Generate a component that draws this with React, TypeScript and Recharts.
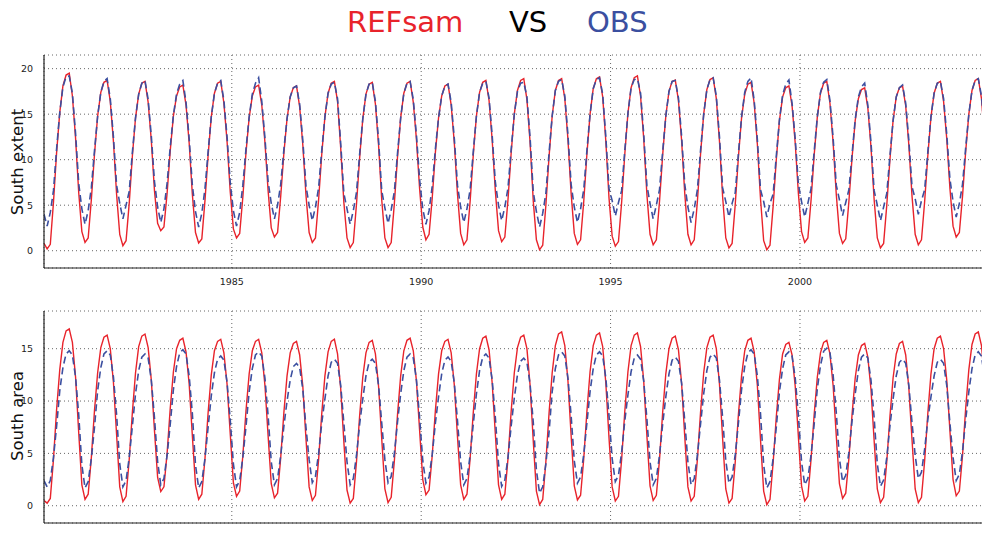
import { CartesianGrid, Line, LineChart, XAxis, YAxis } from 'recharts'

// monthly values, one row per year (Jan..Dec)
const years = [
  1980, 1981, 1982, 1983, 1984, 1985, 1986, 1987, 1988, 1989, 1990, 1991, 1992,
  1993, 1994, 1995, 1996, 1997, 1998, 1999, 2000, 2001, 2002, 2003, 2004
]

const refsamExtent = [
  [0.8, 0.2, 0.7, 5.3, 10.8, 15.2, 18.1, 19.3, 19.5, 17.0, 12.4, 6.4],
  [2.1, 0.9, 1.4, 5.6, 10.6, 14.8, 17.4, 18.5, 18.7, 16.4, 12.0, 6.2],
  [1.8, 0.55, 1.1, 5.2, 10.4, 14.6, 17.2, 18.4, 18.6, 16.3, 12.1, 6.6],
  [3.0, 2.2, 2.6, 6.3, 11.0, 14.8, 17.0, 18.0, 18.2, 16.0, 11.8, 6.2],
  [2.0, 0.85, 1.3, 5.5, 10.5, 14.7, 17.3, 18.4, 18.6, 16.2, 12.0, 6.5],
  [2.4, 1.4, 1.9, 5.9, 10.8, 14.6, 17.0, 18.0, 18.2, 16.0, 11.9, 6.6],
  [2.5, 1.5, 2.0, 6.0, 10.7, 14.5, 16.9, 17.9, 18.1, 15.8, 11.6, 6.1],
  [2.0, 0.9, 1.4, 5.6, 10.6, 14.7, 17.3, 18.4, 18.6, 16.4, 11.3, 5.3],
  [1.4, 0.35, 0.9, 5.1, 10.2, 14.5, 17.2, 18.3, 18.5, 16.1, 11.6, 5.6],
  [1.4, 0.35, 0.9, 5.2, 10.3, 14.6, 17.3, 18.4, 18.6, 16.3, 12.2, 6.8],
  [2.6, 1.2, 1.8, 5.8, 10.8, 14.6, 17.0, 18.1, 18.3, 16.0, 11.8, 6.2],
  [1.9, 0.65, 1.2, 5.4, 10.5, 14.8, 17.4, 18.5, 18.7, 16.5, 12.1, 6.5],
  [2.2, 1.0, 1.5, 5.6, 10.7, 15.0, 17.6, 18.7, 18.9, 16.6, 11.9, 5.5],
  [1.2, 0.1, 0.6, 5.0, 10.3, 14.8, 17.6, 18.7, 18.9, 16.7, 12.2, 6.3],
  [1.9, 0.7, 1.2, 5.4, 10.6, 15.0, 17.8, 18.9, 19.1, 16.9, 12.0, 5.8],
  [1.6, 0.5, 1.0, 5.3, 10.6, 15.1, 17.9, 19.0, 19.2, 17.0, 12.3, 6.2],
  [1.8, 0.65, 1.2, 5.4, 10.5, 14.8, 17.5, 18.6, 18.75, 16.5, 12.1, 6.3],
  [1.8, 0.65, 1.2, 5.4, 10.6, 15.0, 17.7, 18.8, 19.0, 16.7, 12.0, 5.9],
  [1.4, 0.3, 0.8, 5.1, 10.3, 14.6, 17.2, 18.3, 18.5, 16.2, 11.7, 5.7],
  [1.1, 0.1, 0.6, 4.9, 10.0, 14.3, 16.9, 17.9, 18.1, 15.9, 11.8, 6.3],
  [2.1, 0.9, 1.4, 5.5, 10.5, 14.7, 17.3, 18.4, 18.6, 16.2, 11.9, 6.2],
  [1.9, 0.8, 1.3, 5.4, 10.2, 14.3, 16.7, 17.7, 17.9, 15.7, 11.4, 5.6],
  [1.4, 0.3, 0.8, 5.0, 10.0, 14.3, 16.9, 17.9, 18.1, 15.9, 11.6, 6.0],
  [1.8, 0.65, 1.2, 5.4, 10.4, 14.7, 17.3, 18.4, 18.6, 16.4, 12.3, 6.9],
  [2.7, 1.5, 2.0, 6.0, 10.9, 15.0, 17.6, 18.7, 18.9, 16.7, 12.4, 6.5]
]

const obsExtent = [
  [4.0, 2.7, 4.2, 6.6, 11.2, 15.2, 18.0, 19.1, 19.2, 17.3, 12.9, 7.4],
  [4.6, 2.9, 4.4, 6.9, 11.0, 14.8, 17.4, 18.6, 18.9, 16.7, 12.5, 7.2],
  [5.2, 3.5, 5.0, 6.5, 10.8, 14.6, 17.2, 18.4, 18.7, 16.6, 12.6, 7.6],
  [4.8, 3.1, 4.6, 7.4, 11.4, 14.9, 17.2, 18.3, 18.7, 16.3, 12.3, 7.2],
  [4.3, 2.6, 4.1, 6.8, 10.9, 14.7, 17.3, 18.4, 18.7, 16.5, 12.5, 7.5],
  [4.4, 2.7, 4.2, 7.2, 11.2, 14.7, 17.2, 18.4, 19.0, 16.4, 12.4, 7.6],
  [5.2, 3.5, 5.0, 7.3, 11.1, 14.5, 16.9, 17.9, 18.1, 16.1, 12.1, 7.1],
  [5.0, 3.3, 4.8, 6.9, 11.0, 14.7, 17.3, 18.3, 18.5, 16.7, 11.8, 6.3],
  [4.6, 2.9, 4.4, 6.4, 10.6, 14.5, 17.2, 18.3, 18.5, 16.4, 12.1, 6.6],
  [4.7, 3.0, 4.5, 6.5, 10.7, 14.6, 17.3, 18.4, 18.6, 16.6, 12.7, 7.8],
  [4.6, 2.9, 4.4, 7.1, 11.2, 14.6, 17.0, 18.1, 18.3, 16.3, 12.3, 7.2],
  [4.8, 3.1, 4.6, 6.7, 10.9, 14.8, 17.4, 18.4, 18.6, 16.8, 12.6, 7.5],
  [5.0, 3.3, 4.8, 6.9, 11.1, 15.0, 17.5, 18.4, 18.5, 16.9, 12.4, 6.5],
  [4.3, 2.6, 4.1, 6.3, 10.7, 14.8, 17.6, 18.6, 18.8, 17.0, 12.7, 7.3],
  [4.8, 3.1, 4.6, 6.7, 11.0, 15.0, 17.8, 18.8, 19.0, 17.2, 12.5, 6.8],
  [5.5, 3.8, 5.3, 6.6, 11.0, 15.1, 17.9, 18.8, 18.9, 17.3, 12.8, 7.2],
  [5.2, 3.5, 5.0, 6.7, 10.9, 14.8, 17.5, 18.6, 18.7, 16.8, 12.6, 7.3],
  [4.8, 3.1, 4.6, 6.7, 11.0, 15.0, 17.7, 18.8, 19.0, 17.0, 12.5, 6.9],
  [5.4, 3.7, 5.2, 6.4, 10.7, 14.7, 17.4, 18.6, 19.0, 16.5, 12.2, 6.7],
  [5.4, 3.7, 5.2, 6.2, 10.4, 14.4, 17.1, 18.3, 18.75, 16.2, 12.3, 7.3],
  [5.4, 3.7, 5.2, 6.8, 10.9, 14.7, 17.4, 18.5, 18.8, 16.5, 12.4, 7.2],
  [5.6, 3.85, 5.3, 6.7, 10.6, 14.4, 16.9, 18.0, 18.4, 16.0, 11.9, 6.6],
  [5.0, 3.3, 4.8, 6.3, 10.4, 14.3, 16.9, 17.9, 18.2, 16.2, 12.1, 7.0],
  [5.7, 4.0, 5.5, 6.7, 10.8, 14.7, 17.3, 18.4, 18.6, 16.7, 12.8, 7.9],
  [5.4, 3.7, 5.2, 7.3, 11.3, 15.0, 17.6, 18.7, 18.9, 17.0, 12.9, 7.5]
]

const refsamArea = [
  [0.5, 0.25, 0.7, 4.4, 9.2, 13.0, 15.6, 16.7, 16.9, 15.6, 12.3, 7.0],
  [2.0, 0.6, 1.1, 4.6, 9.1, 12.7, 15.1, 16.1, 16.3, 15.0, 11.8, 6.8],
  [1.8, 0.4, 0.9, 4.4, 8.9, 12.7, 15.2, 16.2, 16.4, 15.1, 12.0, 7.2],
  [2.7, 1.35, 1.8, 5.0, 9.3, 12.8, 15.0, 15.8, 16.0, 14.7, 11.6, 6.7],
  [2.0, 0.6, 1.1, 4.5, 8.9, 12.5, 14.8, 15.7, 15.9, 14.6, 11.6, 6.9],
  [2.2, 0.9, 1.4, 4.8, 9.1, 12.6, 14.8, 15.7, 15.9, 14.6, 11.5, 6.7],
  [2.1, 0.75, 1.2, 4.6, 8.9, 12.4, 14.6, 15.5, 15.7, 14.4, 11.4, 6.4],
  [1.8, 0.5, 1.0, 4.4, 8.8, 12.4, 14.7, 15.7, 15.9, 14.5, 11.2, 6.1],
  [1.5, 0.25, 0.7, 4.2, 8.6, 12.3, 14.6, 15.6, 15.8, 14.5, 11.4, 6.4],
  [1.6, 0.3, 0.8, 4.3, 8.7, 12.4, 14.8, 15.8, 16.0, 14.8, 11.9, 7.2],
  [2.5, 1.05, 1.5, 4.8, 9.1, 12.6, 14.8, 15.7, 15.9, 14.6, 11.5, 6.6],
  [2.0, 0.6, 1.1, 4.5, 8.9, 12.6, 15.0, 16.0, 16.2, 14.9, 11.7, 6.8],
  [2.0, 0.6, 1.1, 4.5, 9.0, 12.7, 15.1, 16.1, 16.3, 15.0, 11.5, 6.2],
  [1.4, 0.1, 0.6, 4.2, 8.8, 12.7, 15.3, 16.4, 16.6, 15.3, 11.9, 6.7],
  [1.9, 0.55, 1.0, 4.5, 9.0, 12.8, 15.3, 16.3, 16.5, 15.2, 11.7, 6.5],
  [1.8, 0.45, 0.9, 4.4, 9.0, 12.8, 15.3, 16.3, 16.5, 15.2, 11.9, 6.7],
  [1.9, 0.5, 1.0, 4.4, 8.9, 12.6, 15.0, 16.0, 16.2, 14.9, 11.7, 6.6],
  [1.8, 0.45, 0.9, 4.4, 8.9, 12.7, 15.1, 16.1, 16.3, 15.0, 11.6, 6.4],
  [1.6, 0.25, 0.7, 4.2, 8.7, 12.4, 14.8, 15.8, 16.0, 14.7, 11.5, 6.3],
  [1.4, 0.1, 0.6, 4.1, 8.5, 12.1, 14.5, 15.4, 15.6, 14.4, 11.4, 6.6],
  [1.9, 0.45, 0.9, 4.4, 8.7, 12.3, 14.6, 15.6, 15.8, 14.5, 11.5, 6.7],
  [2.1, 0.7, 1.2, 4.5, 8.7, 12.2, 14.4, 15.3, 15.5, 14.2, 11.1, 6.2],
  [1.6, 0.3, 0.8, 4.2, 8.5, 12.2, 14.5, 15.5, 15.7, 14.4, 11.2, 6.3],
  [1.6, 0.3, 0.8, 4.3, 8.8, 12.6, 15.0, 16.0, 16.2, 15.0, 12.0, 7.2],
  [2.5, 0.95, 1.4, 4.8, 9.3, 13.0, 15.4, 16.4, 16.6, 15.3, 12.0, 6.9]
]

const obsArea = [
  [2.4, 1.8, 2.4, 4.6, 7.6, 11.0, 13.2, 14.5, 14.8, 14.4, 12.3, 8.7],
  [3.9, 1.7, 2.3, 4.5, 7.5, 11.0, 13.2, 14.5, 14.8, 14.4, 12.3, 8.7],
  [4.0, 1.8, 2.4, 4.6, 7.6, 10.7, 12.9, 14.2, 14.5, 14.1, 12.0, 8.4],
  [4.2, 2.0, 2.6, 4.8, 7.8, 11.1, 13.3, 14.6, 14.9, 14.5, 12.4, 8.8],
  [3.9, 1.7, 2.3, 4.5, 7.5, 10.5, 12.7, 14.0, 14.3, 13.9, 11.8, 8.2],
  [4.0, 1.8, 2.4, 4.6, 7.6, 10.9, 13.1, 14.4, 14.7, 14.3, 12.2, 8.6],
  [4.2, 2.0, 2.6, 4.8, 7.6, 10.0, 12.0, 13.3, 13.6, 13.2, 11.1, 7.5],
  [4.4, 2.2, 2.8, 5.0, 7.9, 10.2, 12.4, 13.7, 14.0, 13.6, 11.5, 7.9],
  [4.2, 2.0, 2.6, 4.8, 7.8, 10.2, 12.4, 13.7, 14.0, 13.6, 11.5, 7.9],
  [4.4, 2.2, 2.8, 5.0, 8.0, 10.7, 12.9, 14.2, 14.5, 14.1, 12.0, 8.4],
  [4.3, 2.15, 2.75, 4.9, 7.9, 10.4, 12.6, 13.9, 14.2, 13.8, 11.7, 8.1],
  [4.2, 2.0, 2.6, 4.8, 7.8, 10.7, 12.9, 14.2, 14.5, 14.1, 12.0, 8.4],
  [4.0, 1.85, 2.45, 4.6, 7.6, 10.3, 12.5, 13.8, 14.1, 13.7, 11.6, 8.0],
  [3.4, 1.2, 1.8, 4.0, 7.0, 10.9, 13.1, 14.4, 14.7, 14.3, 12.2, 8.6],
  [4.3, 2.15, 2.75, 4.9, 7.9, 10.9, 13.1, 14.4, 14.7, 14.3, 12.2, 8.6],
  [4.5, 2.3, 2.9, 5.1, 8.1, 10.6, 12.8, 14.1, 14.4, 14.0, 11.9, 8.3],
  [4.2, 2.0, 2.6, 4.8, 7.8, 10.4, 12.6, 13.9, 14.2, 13.8, 11.7, 8.1],
  [4.2, 2.0, 2.6, 4.8, 7.8, 10.7, 12.9, 14.2, 14.5, 14.1, 12.0, 8.4],
  [4.3, 2.15, 2.75, 4.9, 7.9, 11.1, 13.3, 14.6, 14.9, 14.5, 12.4, 8.8],
  [3.9, 1.7, 2.3, 4.5, 7.5, 10.9, 13.1, 14.4, 14.7, 14.3, 12.2, 8.6],
  [4.2, 2.0, 2.6, 4.8, 7.8, 11.2, 13.4, 14.75, 15.05, 14.6, 12.5, 8.9],
  [4.5, 2.3, 2.9, 5.1, 8.1, 10.7, 12.9, 14.2, 14.5, 14.1, 12.0, 8.4],
  [4.0, 1.85, 2.45, 4.6, 7.6, 10.2, 12.4, 13.7, 14.0, 13.6, 11.5, 7.9],
  [4.8, 2.6, 3.2, 5.4, 8.2, 10.4, 12.4, 13.7, 14.0, 13.6, 11.5, 7.9],
  [4.6, 2.4, 3.0, 5.2, 8.2, 10.9, 13.1, 14.4, 14.7, 14.3, 12.2, 8.6]
]

const yearTicks = [1985, 1990, 1995, 2000]
const extentTicks = [0, 5, 10, 15, 20]
const areaTicks = [0, 5, 10, 15]

const RED = '#e8232b'
const BLUE = '#3b4fa0'
const FONT = "'DejaVu Sans', sans-serif"

const data = years.flatMap((year, i) =>
  refsamExtent[i].map((_, m) => ({
    t: year + (m + 0.5) / 12,
    refExt: refsamExtent[i][m],
    obsExt: obsExtent[i][m],
    refArea: refsamArea[i][m],
    obsArea: obsArea[i][m]
  }))
)

const X_DOMAIN: [number, number] = [1980.042, 2004.885]

type PanelProps = {
  refKey: string
  obsKey: string
  yDomain: [number, number]
  yTicks: number[]
  marginTop: number
  height: number
}

function Panel({ refKey, obsKey, yDomain, yTicks, marginTop, height }: PanelProps) {
  const tick = { fill: '#222', fontSize: 9.5, fontFamily: FONT }
  return (
    <LineChart width={1000} height={height} data={data} margin={{ top: marginTop, right: 15, bottom: 0, left: 0 }}>
      <CartesianGrid stroke="#666" strokeDasharray="1 3" />
      <XAxis
        dataKey="t"
        type="number"
        domain={X_DOMAIN}
        allowDataOverflow
        ticks={yearTicks}
        tickLine={false}
        tickMargin={4}
        height={22}
        tick={tick}
        axisLine={{ stroke: '#222', strokeWidth: 1.2 }}
      />
      <XAxis
        xAxisId="top"
        orientation="top"
        dataKey="t"
        type="number"
        domain={X_DOMAIN}
        allowDataOverflow
        tick={false}
        tickLine={false}
        height={0}
        axisLine={{ stroke: '#222', strokeWidth: 1.2 }}
      />
      <YAxis
        type="number"
        domain={yDomain}
        allowDataOverflow
        ticks={yTicks}
        tickLine={false}
        tickMargin={5}
        width={44}
        tick={tick}
        axisLine={{ stroke: '#222', strokeWidth: 1.2 }}
      />
      <Line dataKey={refKey} type="linear" stroke={RED} strokeWidth={1.4} dot={false} isAnimationActive={false} />
      <Line
        dataKey={obsKey}
        type="linear"
        stroke={BLUE}
        strokeWidth={1.6}
        strokeDasharray="7 4"
        dot={false}
        isAnimationActive={false}
      />
    </LineChart>
  )
}

const axisLabel = (top: number): React.CSSProperties => ({
  position: 'absolute',
  left: 17,
  top,
  transform: 'translate(-50%, -50%) rotate(-90deg)',
  fontFamily: FONT,
  fontSize: 16.5,
  color: '#111',
  whiteSpace: 'nowrap'
})

export default function App() {
  return (
    <div
      style={{
        position: 'absolute',
        left: 0,
        top: 0,
        width: 982,
        height: 533,
        overflow: 'hidden',
        background: '#fff'
      }}
    >
      <svg width={982} height={50} style={{ position: 'absolute', left: 0, top: 0 }}>
        <g fontFamily={FONT} fontSize={29}>
          <text x={347} y={32} fill={RED}>REFsam</text>
          <text x={509} y={32} fill="#000">VS</text>
          <text x={587} y={32} fill={BLUE}>OBS</text>
        </g>
      </svg>
      <div style={{ position: 'absolute', left: 0, top: 0 }}>
        <Panel refKey="refExt" obsKey="obsExt" yDomain={[-1.9, 21.5]} yTicks={extentTicks} marginTop={55} height={290} />
      </div>
      <div style={{ position: 'absolute', left: 0, top: 280 }}>
        <Panel refKey="refArea" obsKey="obsArea" yDomain={[-1.65, 18.6]} yTicks={areaTicks} marginTop={31} height={265} />
      </div>
      <div style={axisLabel(162)}>South extent</div>
      <div style={axisLabel(416)}>South area</div>
    </div>
  )
}
